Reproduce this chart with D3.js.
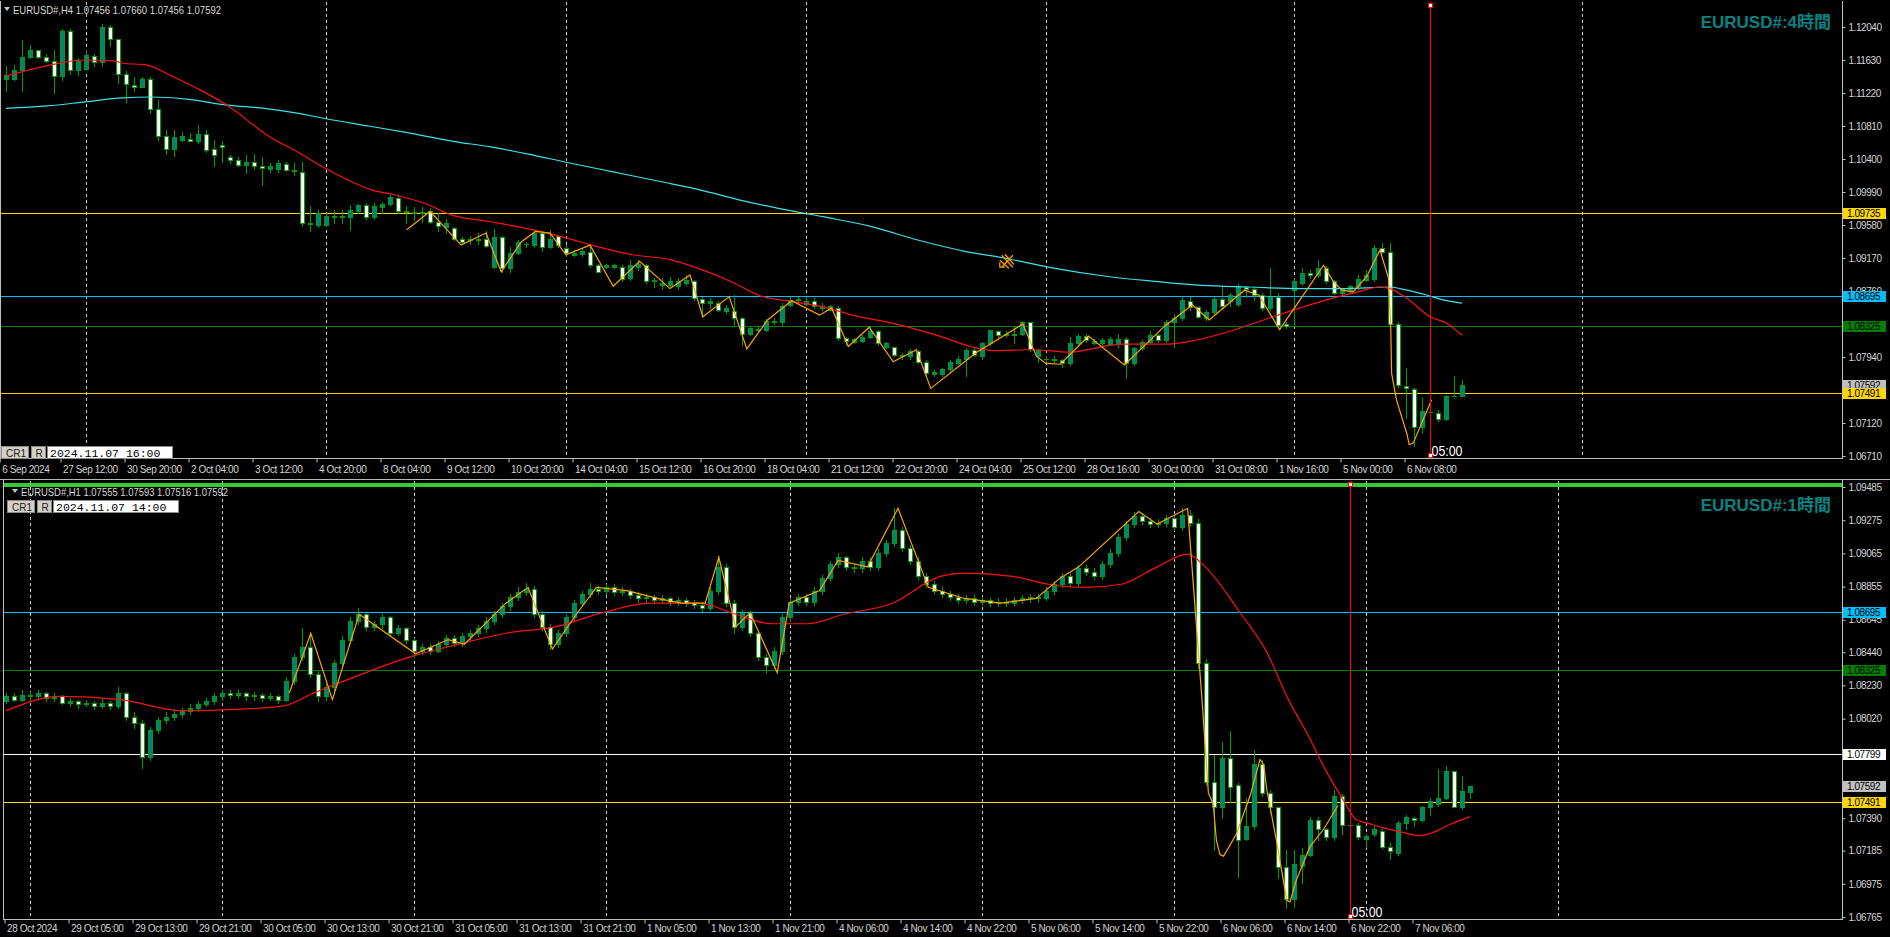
<!DOCTYPE html>
<html><head><meta charset="utf-8"><title>EURUSD H4 / H1</title>
<script src="https://cdn.jsdelivr.net/npm/d3@7/dist/d3.min.js"></script>
<style>
html,body{margin:0;padding:0;background:#000;overflow:hidden;}
svg{display:block;}
</style></head>
<body>
<svg id="chart" width="1890" height="937"></svg>
<script>
// ================= DATA =================
// --- H4 panel (top) ---
const h4Open=[1.1140,1.1140,1.1151,1.1167,1.1175,1.1167,1.1162,1.1143,1.1199,1.1150,
1.1152,1.1168,1.1161,1.1204,1.1189,1.1146,1.1132,1.1130,1.1139,1.1102,
1.1069,1.1053,1.1064,1.1065,1.1062,1.1071,1.1052,1.1057,1.1042,1.1039,
1.1032,1.1036,1.1031,1.1028,1.1028,1.1034,1.1025,1.1024,1.0959,1.0958,
1.0958,1.0968,1.0968,1.0968,1.0976,1.0983,1.0968,1.0980,1.0984,1.0992,
1.0975,1.0973,1.0974,1.0975,1.0962,1.0956,1.0954,1.0940,1.0939,1.0939,
1.0940,1.0906,1.0943,1.0904,1.0923,1.0934,1.0933,1.0948,1.0931,1.0944,
1.0930,1.0921,1.0922,1.0925,1.0908,1.0906,1.0906,1.0906,1.0892,1.0906,
1.0908,1.0888,1.0884,1.0884,1.0882,1.0886,1.0888,1.0866,1.0861,1.0861,
1.0851,1.0851,1.0842,1.0823,1.0829,1.0828,1.0839,1.0837,1.0859,1.0865,
1.0860,1.0863,1.0855,1.0853,1.0855,1.0817,1.0813,1.0814,1.0819,1.0826,
1.0807,1.0806,1.0795,1.0795,1.0801,1.0788,1.0773,1.0773,1.0779,1.0787,
1.0792,1.0803,1.0795,1.0811,1.0826,1.0821,1.0821,1.0823,1.0837,1.0795,
1.0791,1.0792,1.0790,1.0786,1.0811,1.0820,1.0812,1.0812,1.0810,1.0810,
1.0816,1.0786,1.0805,1.0813,1.0821,1.0815,1.0838,1.0842,1.0864,1.0856,
1.0843,1.0850,1.0866,1.0864,1.0860,1.0881,1.0878,1.0871,1.0855,1.0869,
1.0835,1.0877,1.0886,1.0898,1.0896,1.0904,1.0888,1.0874,1.0877,1.0882,
1.0890,1.0891,1.0929,1.0924,1.0835,1.0758,1.0754,1.0707,1.0726,1.0725,
1.0717,1.0746,1.07456];
const h4High=[1.1155,1.1157,1.1188,1.1182,1.1176,1.1171,1.1175,1.1201,1.1201,1.1166,
1.1175,1.1171,1.1208,1.1206,1.1189,1.1149,1.1142,1.1142,1.1142,1.1113,
1.1076,1.1076,1.1074,1.1072,1.1082,1.1076,1.1064,1.1062,1.1045,1.1043,
1.1045,1.1046,1.1043,1.1035,1.1039,1.1036,1.1035,1.1036,1.0981,1.0977,
1.0973,1.0977,1.0977,1.0983,1.0984,1.0985,1.0985,1.0987,1.0995,1.0995,
1.0981,1.0980,1.0980,1.0979,1.0973,1.0966,1.0956,1.0943,1.0944,1.0948,
1.0950,1.0953,1.0944,1.0931,1.0939,1.0937,1.0952,1.0950,1.0952,1.0946,
1.0933,1.0927,1.0929,1.0933,1.0910,1.0910,1.0910,1.0908,1.0915,1.0914,
1.0910,1.0892,1.0892,1.0894,1.0892,1.0896,1.0890,1.0869,1.0867,1.0863,
1.0859,1.0871,1.0844,1.0832,1.0832,1.0841,1.0842,1.0861,1.0868,1.0869,
1.0869,1.0867,1.0861,1.0859,1.0857,1.0819,1.0817,1.0821,1.0832,1.0828,
1.0813,1.0807,1.0799,1.0804,1.0803,1.0790,1.0778,1.0780,1.0790,1.0795,
1.0805,1.0805,1.0813,1.0828,1.0828,1.0826,1.0832,1.0839,1.0838,1.0804,
1.0795,1.0795,1.0792,1.0819,1.0823,1.0823,1.0816,1.0818,1.0819,1.0823,
1.0819,1.0807,1.0815,1.0826,1.0823,1.0840,1.0848,1.0868,1.0869,1.0857,
1.0852,1.0869,1.0882,1.0873,1.0885,1.0882,1.0881,1.0873,1.0904,1.0873,
1.0838,1.0891,1.0904,1.0902,1.0914,1.0907,1.0890,1.0879,1.0883,1.0896,
1.0902,1.0933,1.0936,1.0936,1.0838,1.0780,1.0755,1.0743,1.0741,1.0728,
1.0747,1.0770,1.07660];
const h4Low=[1.1124,1.1138,1.1124,1.1165,1.1166,1.1161,1.1122,1.1138,1.1146,1.1144,
1.1151,1.1155,1.1155,1.1180,1.1134,1.1111,1.1124,1.1129,1.1097,1.1064,
1.1046,1.1044,1.1062,1.1062,1.1060,1.1049,1.1031,1.1036,1.1035,1.1031,
1.1023,1.1028,1.1008,1.1024,1.1024,1.1025,1.1020,1.0957,1.0950,1.0956,
1.0957,1.0960,1.0961,1.0952,1.0973,1.0966,1.0966,1.0973,1.0983,1.0973,
1.0960,1.0964,1.0962,1.0961,1.0950,1.0948,1.0939,1.0935,1.0935,1.0935,
1.0931,1.0904,1.0899,1.0900,1.0922,1.0931,1.0931,1.0926,1.0929,1.0931,
1.0919,1.0919,1.0919,1.0906,1.0899,1.0904,1.0904,1.0888,1.0890,1.0902,
1.0886,1.0881,1.0879,1.0882,1.0879,1.0884,1.0865,1.0844,1.0855,1.0851,
1.0849,1.0834,1.0809,1.0821,1.0826,1.0826,1.0835,1.0833,1.0857,1.0862,
1.0859,1.0855,1.0852,1.0852,1.0815,1.0809,1.0811,1.0813,1.0817,1.0809,
1.0805,1.0795,1.0792,1.0792,1.0787,1.0772,1.0770,1.0770,1.0777,1.0785,
1.0770,1.0795,1.0792,1.0809,1.0819,1.0819,1.0811,1.0821,1.0802,1.0788,
1.0788,1.0788,1.0782,1.0784,1.0809,1.0813,1.0810,1.0809,1.0809,1.0807,
1.0768,1.0784,1.0803,1.0811,1.0813,1.0813,1.0807,1.0840,1.0852,1.0842,
1.0840,1.0848,1.0855,1.0857,1.0857,1.0869,1.0865,1.0852,1.0852,1.0832,
1.0830,1.0834,1.0883,1.0892,1.0894,1.0886,1.0872,1.0871,1.0875,1.0879,
1.0888,1.0888,1.0923,1.0832,1.0757,1.0718,1.0683,1.0699,1.0708,1.0715,
1.0716,1.0745,1.07456];
const h4Close=[1.1144,1.1151,1.1167,1.1175,1.1167,1.1162,1.1143,1.1199,1.1150,1.1162,
1.1169,1.1161,1.1204,1.1189,1.1146,1.1133,1.1130,1.1139,1.1102,1.1069,
1.1053,1.1067,1.1068,1.1062,1.1071,1.1051,1.1045,1.1055,1.1039,1.1033,
1.1036,1.1031,1.1029,1.1031,1.1035,1.1026,1.1026,1.0960,1.0961,1.0973,
1.0969,1.0969,1.0969,1.0977,1.0983,1.0968,1.0981,1.0984,1.0993,1.0976,
1.0974,1.0974,1.0973,1.0962,1.0957,1.0961,1.0940,1.0937,1.0940,1.0940,
1.0932,1.0943,1.0904,1.0923,1.0937,1.0935,1.0948,1.0931,1.0940,1.0933,
1.0923,1.0923,1.0926,1.0908,1.0900,1.0908,1.0908,1.0891,1.0908,1.0910,
1.0888,1.0890,1.0886,1.0888,1.0888,1.0890,1.0867,1.0861,1.0863,1.0853,
1.0855,1.0842,1.0823,1.0830,1.0828,1.0839,1.0837,1.0857,1.0865,1.0866,
1.0864,1.0857,1.0857,1.0857,1.0817,1.0814,1.0816,1.0819,1.0826,1.0811,
1.0811,1.0797,1.0797,1.0802,1.0788,1.0774,1.0775,1.0779,1.0788,1.0792,
1.0803,1.0796,1.0811,1.0827,1.0821,1.0823,1.0823,1.0837,1.0804,1.0803,
1.0791,1.0790,1.0786,1.0812,1.0820,1.0815,1.0814,1.0815,1.0816,1.0816,
1.0786,1.0805,1.0813,1.0821,1.0815,1.0838,1.0843,1.0865,1.0856,1.0844,
1.0850,1.0866,1.0857,1.0871,1.0882,1.0878,1.0871,1.0855,1.0869,1.0834,
1.0833,1.0888,1.0898,1.0896,1.0905,1.0888,1.0874,1.0878,1.0882,1.0891,
1.0896,1.0929,1.0925,1.0835,1.0759,1.0755,1.0707,1.0727,1.0726,1.0717,
1.0746,1.0746,1.07592];
// moving averages & zigzag: [bar index, price]
const h4RedMa=[[0,1.1143],[5.15,1.1156],[9.9,1.1163],[13.4,1.1162],[14.6,1.1159],[17.5,1.1157],[20.5,1.1144],[24.6,1.1124],[27.6,1.1107],[32.9,1.1068],[36.4,1.1049],[40,1.1028],[45.9,1.1001],[48.8,1.0995],[52.3,1.0985],[55.9,1.0970],[60.6,1.0962],[65.9,1.0952],[70,1.0942],[73.6,1.0932],[78.3,1.0921],[83,1.0915],[86,1.0906],[91,1.0886],[94,1.0871],[98.2,1.0863],[102.3,1.0856],[105.8,1.0846],[111.7,1.0834],[117,1.0819],[120.6,1.0807],[123.5,1.0802],[128.3,1.0803],[133,1.0800],[137.1,1.0807],[139.5,1.0810],[145.4,1.0810],[148.3,1.0814],[153,1.0826],[157.2,1.0840],[161.75,1.0855],[165.4,1.0866],[169,1.0875],[171.75,1.0881],[173,1.0879],[175.1,1.0867],[178,1.0844],[180.1,1.0836],[182,1.0821]];
const h4CyanMa=[[0,1.1103],[5.15,1.1106],[9.9,1.1111],[14.6,1.1116],[18.1,1.1117],[22.85,1.1114],[27.6,1.1107],[32.3,1.1103],[36.4,1.1097],[40,1.1090],[45.3,1.1081],[50,1.1073],[55.9,1.1062],[60.6,1.1055],[65.3,1.1046],[70,1.1036],[75.9,1.1024],[81.8,1.1012],[86.6,1.1002],[91.75,1.0989],[96.4,1.0979],[102.3,1.0968],[108.2,1.0956],[114.1,1.0939],[120,1.0925],[124.7,1.0917],[130.6,1.0905],[137.7,1.0894],[143.6,1.0888],[149.5,1.0883],[155.4,1.0881],[161.75,1.0879],[167.2,1.0879],[173,1.0881],[174.25,1.0879],[177.6,1.0871],[179.25,1.0866],[182,1.0861]];
const h4Zigzag=[[50.1,1.0952],[53,1.0975],[56.9,1.0933],[60,1.0948],[61.9,1.0900],[64.4,1.0937],[66.2,1.0950],[68,1.0948],[70,1.0921],[73,1.0933],[75.9,1.0882],[79.2,1.0913],[83,1.0879],[85.5,1.0896],[87.1,1.0844],[90.4,1.0869],[92.6,1.0804],[95.2,1.0840],[98.2,1.0864],[101.7,1.0846],[103.2,1.0855],[105.3,1.0807],[107.9,1.0831],[110.9,1.0788],[113.8,1.0803],[115.6,1.0755],[121.2,1.0799],[127.1,1.0835],[128.8,1.0795],[130,1.0786],[131.8,1.0785],[135.3,1.0820],[139.8,1.0784],[144.8,1.0832],[148.3,1.0859],[150.4,1.0840],[154.8,1.0877],[156.6,1.0871],[159.2,1.0828],[161.75,1.0865],[164.7,1.0908],[165.9,1.0888],[167,1.0877],[168.4,1.0875],[170.1,1.0894],[171.75,1.0927],[172.8,1.0892],[173.1,1.0828],[173.2,1.0774],[173.8,1.0741],[175.1,1.0699],[175.4,1.0685],[175.9,1.0687],[178.2,1.0741]];
const h4PriceTicks=[1.12040,1.11630,1.11220,1.10810,1.10400,1.09990,1.09580,1.09170,1.08760,1.07940,1.07120,1.06710];
const h4TimeLabels=["6 Sep 2024","27 Sep 12:00","30 Sep 20:00","2 Oct 04:00","3 Oct 12:00","4 Oct 20:00","8 Oct 04:00","9 Oct 12:00","10 Oct 20:00","14 Oct 04:00","15 Oct 12:00","16 Oct 20:00","18 Oct 04:00","21 Oct 12:00","22 Oct 20:00","24 Oct 04:00","25 Oct 12:00","28 Oct 16:00","30 Oct 00:00","31 Oct 08:00","1 Nov 16:00","5 Nov 00:00","6 Nov 08:00"];
const h4TimeLabelBars=[-0.6,7,15,23,31,39,47,55,63,71,79,87,95,103,111,119,127,135,143,151,159,167,175];
const h4GridBars=[10,40,70,100,130,161,197];
const h4YellowLevels=[1.09735,1.07491];
const h4CyanLevels=[1.08695];
const h4GreenLevels=[1.08325];
const h4Ohlc=[1.07456,1.07660,1.07456,1.07592];
const h4CursorBar=178;
const h4MarkerPoint=[125.1,1.0913];

// --- H1 panel (bottom) ---
const h1Open=[1.0813,1.0816,1.0814,1.0817,1.0816,1.0818,1.0815,1.0816,1.0812,1.0813,
1.0811,1.0812,1.0810,1.0812,1.0810,1.0818,1.0803,1.0799,1.0778,1.0795,
1.0801,1.0803,1.0805,1.0807,1.0809,1.0811,1.0813,1.0816,1.0818,1.0817,
1.0818,1.0816,1.0817,1.0815,1.0816,1.0814,1.0826,1.0841,1.0847,1.0830,
1.0816,1.0822,1.0837,1.0852,1.0864,1.0868,1.0860,1.0862,1.0866,1.0856,
1.0859,1.0852,1.0845,1.0847,1.0845,1.0849,1.0853,1.0850,1.0854,1.0856,
1.0859,1.0864,1.0868,1.0873,1.0879,1.0882,1.0884,1.0868,1.0860,1.0849,
1.0856,1.0866,1.0875,1.0881,1.0884,1.0883,1.0885,1.0882,1.0883,1.0880,
1.0878,1.0879,1.0877,1.0878,1.0876,1.0877,1.0875,1.0874,1.0872,1.0883,
1.0898,1.0875,1.0860,1.0869,1.0856,1.0841,1.0836,1.0845,1.0866,1.0876,
1.0879,1.0876,1.0883,1.0891,1.0900,1.0904,1.0898,1.0897,1.0902,1.0898,
1.0907,1.0913,1.0921,1.0910,1.0902,1.0892,1.0887,1.0883,1.0881,1.0879,
1.0877,1.0878,1.0876,1.0877,1.0875,1.0876,1.0875,1.0877,1.0878,1.0879,
1.0878,1.0883,1.0887,1.0892,1.0888,1.0897,1.0895,1.0892,1.0900,1.0907,
1.0917,1.0925,1.0930,1.0927,1.0925,1.0926,1.0929,1.0923,1.0931,1.0926,
1.0837,1.0762,1.0746,1.0777,1.0760,1.0726,1.0734,1.0773,1.0755,1.0746,
1.0708,1.0688,1.0709,1.0716,1.0738,1.0732,1.0727,1.0753,1.0735,1.0735,
1.0726,1.0729,1.0731,1.0721,1.0717,1.0736,1.0739,1.0738,1.0746,1.0748,
1.0752,1.0769,1.0746,1.07555];
const h1High=[1.0818,1.0818,1.0820,1.0819,1.0820,1.0819,1.0818,1.0817,1.0815,1.0814,
1.0814,1.0813,1.0815,1.0813,1.0822,1.0819,1.0806,1.0801,1.0797,1.0803,
1.0806,1.0808,1.0809,1.0811,1.0813,1.0815,1.0818,1.0820,1.0820,1.0820,
1.0819,1.0819,1.0818,1.0818,1.0817,1.0828,1.0843,1.0859,1.0856,1.0832,
1.0825,1.0839,1.0854,1.0866,1.0872,1.0869,1.0864,1.0868,1.0867,1.0861,
1.0860,1.0853,1.0849,1.0849,1.0851,1.0855,1.0855,1.0856,1.0858,1.0861,
1.0866,1.0870,1.0875,1.0881,1.0885,1.0888,1.0886,1.0870,1.0862,1.0858,
1.0868,1.0877,1.0883,1.0888,1.0886,1.0887,1.0887,1.0885,1.0884,1.0882,
1.0881,1.0880,1.0880,1.0879,1.0879,1.0878,1.0877,1.0876,1.0885,1.0905,
1.0900,1.0877,1.0871,1.0870,1.0858,1.0843,1.0847,1.0868,1.0878,1.0881,
1.0881,1.0885,1.0893,1.0902,1.0907,1.0905,1.0900,1.0904,1.0904,1.0909,
1.0915,1.0935,1.0923,1.0912,1.0904,1.0894,1.0889,1.0885,1.0883,1.0881,
1.0880,1.0880,1.0879,1.0878,1.0878,1.0878,1.0879,1.0880,1.0881,1.0881,
1.0885,1.0889,1.0894,1.0894,1.0899,1.0899,1.0897,1.0902,1.0909,1.0919,
1.0927,1.0933,1.0932,1.0929,1.0928,1.0931,1.0931,1.0935,1.0934,1.0928,
1.0840,1.0779,1.0787,1.0794,1.0761,1.0752,1.0782,1.0776,1.0757,1.0746,
1.0719,1.0719,1.0720,1.0740,1.0740,1.0733,1.0757,1.0754,1.0739,1.0736,
1.0729,1.0734,1.0732,1.0723,1.0737,1.0741,1.0740,1.0747,1.0752,1.0770,
1.0772,1.0769,1.0766,1.07593];
const h1Low=[1.0812,1.0813,1.0813,1.0814,1.0815,1.0813,1.0813,1.0811,1.0810,1.0809,
1.0810,1.0808,1.0809,1.0808,1.0809,1.0801,1.0796,1.0771,1.0776,1.0793,
1.0799,1.0801,1.0803,1.0805,1.0807,1.0810,1.0811,1.0814,1.0815,1.0815,
1.0814,1.0814,1.0813,1.0814,1.0812,1.0813,1.0824,1.0839,1.0828,1.0813,
1.0814,1.0820,1.0835,1.0850,1.0862,1.0858,1.0858,1.0859,1.0854,1.0855,
1.0850,1.0841,1.0843,1.0843,1.0844,1.0847,1.0848,1.0848,1.0852,1.0854,
1.0857,1.0862,1.0866,1.0871,1.0877,1.0880,1.0866,1.0858,1.0846,1.0847,
1.0854,1.0864,1.0873,1.0879,1.0881,1.0881,1.0880,1.0880,1.0878,1.0876,
1.0876,1.0875,1.0875,1.0874,1.0874,1.0873,1.0872,1.0870,1.0871,1.0881,
1.0873,1.0856,1.0858,1.0854,1.0839,1.0831,1.0834,1.0843,1.0864,1.0874,
1.0874,1.0874,1.0881,1.0889,1.0898,1.0896,1.0895,1.0895,1.0896,1.0896,
1.0905,1.0911,1.0908,1.0900,1.0890,1.0885,1.0881,1.0879,1.0877,1.0875,
1.0875,1.0874,1.0874,1.0873,1.0873,1.0873,1.0874,1.0875,1.0876,1.0876,
1.0877,1.0881,1.0885,1.0886,1.0886,1.0893,1.0890,1.0890,1.0898,1.0905,
1.0915,1.0923,1.0925,1.0923,1.0923,1.0924,1.0921,1.0921,1.0924,1.0834,
1.0760,1.0719,1.0739,1.0749,1.0702,1.0725,1.0732,1.0753,1.0742,1.0701,
1.0682,1.0683,1.0698,1.0715,1.0725,1.0725,1.0725,1.0729,1.0730,1.0726,
1.0721,1.0728,1.0720,1.0713,1.0716,1.0732,1.0734,1.0737,1.0741,1.0747,
1.0751,1.0746,1.0745,1.07516];
const h1Close=[1.0816,1.0814,1.0817,1.0816,1.0818,1.0815,1.0816,1.0812,1.0813,1.0811,
1.0812,1.0810,1.0812,1.0810,1.0818,1.0803,1.0799,1.0778,1.0795,1.0801,
1.0803,1.0805,1.0807,1.0809,1.0811,1.0813,1.0816,1.0818,1.0817,1.0818,
1.0816,1.0817,1.0815,1.0816,1.0814,1.0826,1.0841,1.0847,1.0830,1.0816,
1.0822,1.0837,1.0852,1.0864,1.0868,1.0860,1.0862,1.0866,1.0856,1.0859,
1.0852,1.0845,1.0847,1.0845,1.0849,1.0853,1.0850,1.0854,1.0856,1.0859,
1.0864,1.0868,1.0873,1.0879,1.0882,1.0884,1.0868,1.0860,1.0849,1.0856,
1.0866,1.0875,1.0881,1.0884,1.0883,1.0885,1.0882,1.0883,1.0880,1.0878,
1.0879,1.0877,1.0878,1.0876,1.0877,1.0875,1.0874,1.0872,1.0883,1.0898,
1.0875,1.0860,1.0869,1.0856,1.0841,1.0836,1.0845,1.0866,1.0876,1.0879,
1.0876,1.0883,1.0891,1.0900,1.0904,1.0898,1.0897,1.0902,1.0898,1.0907,
1.0913,1.0921,1.0910,1.0902,1.0892,1.0887,1.0883,1.0881,1.0879,1.0877,
1.0878,1.0876,1.0877,1.0875,1.0876,1.0875,1.0877,1.0878,1.0879,1.0878,
1.0883,1.0887,1.0892,1.0888,1.0897,1.0895,1.0892,1.0900,1.0907,1.0917,
1.0925,1.0930,1.0927,1.0925,1.0926,1.0929,1.0923,1.0931,1.0926,1.0837,
1.0762,1.0746,1.0777,1.0759,1.0725,1.0734,1.0773,1.0755,1.0746,1.0708,
1.0688,1.0710,1.0716,1.0738,1.0732,1.0727,1.0753,1.0735,1.0735,1.0727,
1.0728,1.0732,1.0721,1.0718,1.0736,1.0740,1.0738,1.0746,1.0750,1.0752,
1.0769,1.0746,1.0756,1.07592];
const h1RedMa=[[0,1.0807],[6.8,1.0816],[14.3,1.0814],[21.9,1.0807],[29.4,1.0808],[34.7,1.0810],[38.4,1.0818],[44.4,1.0830],[50.5,1.0841],[56.5,1.0849],[62.5,1.0856],[68.6,1.0860],[74.6,1.0869],[80.6,1.0875],[86.6,1.0875],[91.2,1.0868],[95.7,1.0862],[100.2,1.0862],[104.7,1.0868],[110.8,1.0875],[116.8,1.0892],[119.8,1.0894],[125.8,1.0892],[130.3,1.0887],[134.9,1.0885],[139.4,1.0887],[143.9,1.0898],[147.7,1.0906],[149.9,1.0898],[154.4,1.0868],[157.5,1.0845],[160.3,1.0814],[162.6,1.0793],[165.1,1.0768],[167.1,1.0751],[168.8,1.0738],[170.1,1.0736],[172.1,1.0733],[174.6,1.0730],[176.75,1.0728],[178.4,1.0730],[180.5,1.0735],[183,1.0740]];
const h1Zigzag=[[35.4,1.0818],[38.1,1.0856],[40.8,1.0814],[44.15,1.0868],[51.2,1.0843],[55.3,1.0852],[57.3,1.0849],[62.5,1.0875],[65.25,1.0885],[68.3,1.0846],[71.3,1.0868],[73.8,1.0885],[77.6,1.0883],[81.4,1.0878],[84.4,1.0875],[87.4,1.0875],[89.1,1.0904],[91.2,1.0860],[93,1.0869],[96.4,1.0831],[97.9,1.0875],[101.7,1.0883],[104,1.0902],[107.7,1.0898],[111.5,1.0935],[115.3,1.0885],[119.8,1.0878],[124.3,1.0875],[128.8,1.0878],[131.8,1.0891],[134.1,1.0898],[141.6,1.0933],[143.9,1.0925],[147.7,1.0935],[149.5,1.0814],[150.3,1.0755],[150.9,1.0748],[151.3,1.0725],[151.75,1.0716],[152.2,1.0715],[153.8,1.0729],[155.5,1.0753],[156.75,1.0776],[157.2,1.0773],[157.6,1.0757],[158.8,1.0725],[160.1,1.0687],[160.5,1.0686],[161.3,1.0700],[163,1.0721],[164.7,1.0732],[166.5,1.0747]];
const h1PriceTicks=[1.09485,1.09275,1.09065,1.08855,1.08645,1.08440,1.08230,1.08020,1.07390,1.07185,1.06975,1.06765];
const h1TimeLabels=["28 Oct 2024","29 Oct 05:00","29 Oct 13:00","29 Oct 21:00","30 Oct 05:00","30 Oct 13:00","30 Oct 21:00","31 Oct 05:00","31 Oct 13:00","31 Oct 21:00","1 Nov 05:00","1 Nov 13:00","1 Nov 21:00","4 Nov 06:00","4 Nov 14:00","4 Nov 22:00","5 Nov 06:00","5 Nov 14:00","5 Nov 22:00","6 Nov 06:00","6 Nov 14:00","6 Nov 22:00","7 Nov 06:00"];
const h1TimeLabelBars=[0,8,16,24,32,40,48,56,64,72,80,88,96,104,112,120,128,136,144,152,160,168,176];
const h1GridBars=[3,27,51,75,98,122,146,170,194];
const h1CyanLevels=[1.08695];
const h1GreenLevels=[1.08325];
const h1WhiteLevels=[1.07799];
const h1YellowLevels=[1.07491];
const h1Ohlc=[1.07555,1.07593,1.07516,1.07592];
const h1CursorBar=168;

// ================= DRAWING =================
const FONT='"Liberation Sans",Arial,sans-serif';
const PR=1842;               // right edge of plot areas
const GREEN='#00a000', TEAL='#008080', WHITE='#ffffff';
const svg=d3.select('#chart');
svg.append('rect').attr('width',1890).attr('height',937).attr('fill','#000');
const x=d3.scaleLinear().domain([0,182]).range([6,6+8*182]);
const xLabel=d3.scaleLinear().domain([0,182]).range([4,4+8*182]);
const fmt=d3.format('.5f');

function drawPanel(p){
  const y=p.y;
  const clipId='clip-'+p.id;
  svg.append('clipPath').attr('id',clipId).append('rect')
    .attr('x',p.left).attr('y',p.top).attr('width',PR-p.left).attr('height',p.bottom-p.top);
  const inner=svg.append('g').attr('clip-path',`url(#${clipId})`);

  // dashed grid
  inner.append('g').selectAll('line').data(p.gridBars).join('line')
    .attr('x1',d=>Math.round(x(d))+0.5).attr('x2',d=>Math.round(x(d))+0.5)
    .attr('y1',p.top).attr('y2',p.bottom)
    .attr('stroke','#c8c8c8').attr('stroke-dasharray','3,3').attr('shape-rendering','crispEdges');

  // horizontal price levels
  inner.append('g').selectAll('line').data(p.levels).join('line')
    .attr('x1',p.left).attr('x2',PR)
    .attr('y1',d=>Math.round(y(d.price))+0.5).attr('y2',d=>Math.round(y(d.price))+0.5)
    .attr('stroke',d=>d.color).attr('stroke-width',1).attr('shape-rendering','crispEdges');

  // candles
  const cs=d3.range(p.open.length).map(i=>({i,o:p.open[i],h:p.high[i],l:p.low[i],c:p.close[i]}));
  const cx=d=>Math.round(x(d.i));
  const top=d=>Math.round(y(Math.max(d.o,d.c)));
  const bot=d=>Math.round(y(Math.min(d.o,d.c)));
  const cg=inner.append('g').attr('shape-rendering','crispEdges');
  cg.selectAll('rect.w').data(cs).join('rect').attr('class','w')
    .attr('x',cx).attr('y',d=>Math.round(y(d.h))).attr('width',1)
    .attr('height',d=>Math.max(1,Math.round(y(d.l))-Math.round(y(d.h))+1)).attr('fill',GREEN);
  cg.selectAll('rect.b').data(cs).join('rect').attr('class','b')
    .attr('x',d=>cx(d)-2).attr('y',top).attr('width',5)
    .attr('height',d=>Math.max(1,bot(d)-top(d)+1)).attr('fill',GREEN);
  cg.selectAll('rect.f').data(cs.filter(d=>bot(d)-top(d)>=2)).join('rect').attr('class','f')
    .attr('x',d=>cx(d)-1).attr('y',d=>top(d)+1).attr('width',3)
    .attr('height',d=>bot(d)-top(d)-1).attr('fill',d=>d.c>d.o?TEAL:WHITE);

  // indicator lines
  const smooth=d3.line().x(d=>x(d[0])).y(d=>y(d[1])).curve(d3.curveMonotoneX);
  const straight=d3.line().x(d=>x(d[0])).y(d=>y(d[1]));
  if(p.cyanMa) inner.append('path').datum(p.cyanMa).attr('d',smooth).attr('fill','none').attr('stroke','#3fe0ea').attr('stroke-width',1.2);
  if(p.redMa) inner.append('path').datum(p.redMa).attr('d',smooth).attr('fill','none').attr('stroke','#ff1010').attr('stroke-width',1.2);
  if(p.zigzag && p.zigzag.length) inner.append('path').datum(p.zigzag).attr('d',straight).attr('fill','none').attr('stroke','#ffa500').attr('stroke-width',1.2);

  // cursor line
  const vx=Math.round(x(p.cursorBar))+0.5;
  inner.append('line').attr('x1',vx).attr('x2',vx).attr('y1',p.top).attr('y2',p.bottom)
    .attr('stroke','#ff0000').attr('shape-rendering','crispEdges');
  [p.top+1,p.bottom-5].forEach(yy=>{
    svg.append('rect').attr('x',vx-2.5).attr('y',yy+0.5).attr('width',4).attr('height',4)
      .attr('fill','#fff').attr('stroke','#ff0000').attr('shape-rendering','crispEdges');
  });
  svg.append('text').attr('x',vx+1).attr('y',p.bottom-2).attr('fill','#fff')
    .attr('font-family',FONT).attr('font-size',15).attr('textLength',31).attr('lengthAdjust','spacingAndGlyphs').text('05:00');

  // frame
  const fr=svg.append('g').attr('stroke','#c0c0c0').attr('shape-rendering','crispEdges');
  fr.append('line').attr('x1',p.left-0.5).attr('x2',PR+0.5).attr('y1',p.bottom+0.5).attr('y2',p.bottom+0.5);
  fr.append('line').attr('x1',PR+0.5).attr('x2',PR+0.5).attr('y1',p.top-1).attr('y2',p.bottom+0.5);
  fr.append('line').attr('x1',p.left-0.5).attr('x2',p.left-0.5).attr('y1',p.top-1).attr('y2',p.bottom+0.5);

  // price axis
  const ax=d3.axisRight(y).tickValues(p.ticks).tickFormat(fmt).tickSize(3).tickPadding(3);
  const ag=svg.append('g').attr('transform',`translate(${PR+0.5},0)`).call(ax);
  ag.attr('font-family',FONT).attr('font-size',10);
  ag.select('.domain').remove();
  ag.selectAll('line').attr('stroke','#c0c0c0');
  ag.selectAll('text').attr('fill','#d4d4d4').style('letter-spacing','-0.45px');

  // price label boxes
  const bx=svg.append('g');
  p.boxes.forEach(b=>{
    const yc=Math.round(y(b.price));
    bx.append('rect').attr('x',1843).attr('y',yc-5).attr('width',43).attr('height',11).attr('fill',b.fill).attr('shape-rendering','crispEdges');
    bx.append('text').attr('x',1847).attr('y',yc+4).attr('fill','#000').attr('font-family',FONT).attr('font-size',10)
      .style('letter-spacing','-0.45px').text(fmt(b.price));
  });

  // time axis
  const tx=d3.axisBottom(xLabel).tickValues(p.labelBars).tickFormat((d,i)=>p.labels[i]).tickSize(4).tickPadding(p.tickPad);
  const tg=svg.append('g').attr('transform',`translate(0.5,${p.bottom+0.5})`).call(tx);
  tg.attr('font-family',FONT).attr('font-size',10);
  tg.select('.domain').remove();
  tg.selectAll('line').attr('stroke','#c0c0c0');
  tg.selectAll('text').attr('text-anchor','start').attr('x',2).attr('fill','#d4d4d4').style('letter-spacing','-0.4px');

  // title
  svg.append('path').attr('d',`M${p.titleX-9},${p.titleY-7}h6l-3,4z`).attr('fill','#c8c8c8');
  svg.append('text').attr('x',p.titleX).attr('y',p.titleY).attr('fill','#d8d8d8').attr('font-family',FONT)
    .attr('font-size',11).attr('textLength',p.titleLen).attr('lengthAdjust','spacingAndGlyphs')
    .text(`${p.symbol}  ${p.ohlc.map(fmt).join(' ')}`);
  // timeframe tag
  svg.append('text').attr('x',1831).attr('y',p.tagY).attr('text-anchor','end').attr('fill','#0a8282')
    .attr('font-family','"Liberation Sans","Noto Sans CJK JP",sans-serif').attr('font-weight','bold').attr('font-size',17)
    .text(p.tag);
  // CR1 / R / date boxes
  const c=svg.append('g').attr('shape-rendering','crispEdges');
  c.append('rect').attr('x',p.crX+0.5).attr('y',p.crY+0.5).attr('width',27).attr('height',12).attr('fill','#d4d0c8').attr('stroke','#8a8a8a');
  c.append('text').attr('x',p.crX+5).attr('y',p.crY+10.5).attr('fill','#202020').attr('font-family',FONT).attr('font-size',10).text('CR1');
  c.append('rect').attr('x',p.crX+30.5).attr('y',p.crY+0.5).attr('width',14).attr('height',12).attr('fill','#d4d0c8').attr('stroke','#8a8a8a');
  c.append('text').attr('x',p.crX+34.5).attr('y',p.crY+10.5).attr('fill','#202020').attr('font-family',FONT).attr('font-size',10).text('R');
  c.append('rect').attr('x',p.crX+46.5).attr('y',p.crY+0.5).attr('width',125).attr('height',12).attr('fill','#fff').attr('stroke','#8a8a8a');
  c.append('text').attr('x',p.crX+49).attr('y',p.crY+10.5).attr('fill','#000').attr('font-family','"Liberation Mono","DejaVu Sans Mono",monospace')
    .attr('font-size',11.5).text(p.crDate);
}

// ---- top panel ----
const yTop=d3.scaleLinear().domain([1.06710,1.12040]).range([456,27]);
drawPanel({
  id:'h4',left:1,top:2,bottom:458,y:yTop,
  open:h4Open,high:h4High,low:h4Low,close:h4Close,
  redMa:h4RedMa,cyanMa:h4CyanMa,zigzag:h4Zigzag,gridBars:h4GridBars,
  levels:[...h4YellowLevels.map(p=>({price:p,color:'#ffd700'})),...h4CyanLevels.map(p=>({price:p,color:'#00bfff'})),...h4GreenLevels.map(p=>({price:p,color:'#008000'}))],
  boxes:[{price:h4YellowLevels[0],fill:'#ffd700'},{price:h4CyanLevels[0],fill:'#00bfff'},{price:h4GreenLevels[0],fill:'#008000'},{price:h4Ohlc[3],fill:'#c0c0c0'},{price:h4YellowLevels[1],fill:'#ffd700'}],
  ticks:h4PriceTicks,labels:h4TimeLabels,labelBars:h4TimeLabelBars,tickPad:3,
  cursorBar:h4CursorBar,symbol:'EURUSD#,H4',ohlc:h4Ohlc,titleX:13,titleY:14,titleLen:208,
  tag:'EURUSD#:4時間',tagY:28,crX:1,crY:446,crDate:'2024.11.07 16:00'
});
// hand-drawn marker object on the H4 chart
(function(){
  const mx=x(h4MarkerPoint[0]), my=yTop(h4MarkerPoint[1]);
  const m=svg.append('g').attr('stroke','#ff9a00').attr('stroke-width',1.3).attr('fill','none');
  m.append('path').attr('d',`M${mx-5},${my-6}L${mx+6},${my+6}M${mx+6},${my-6}L${mx-5},${my+6}M${mx-2},${my-7}L${mx+7},${my+3}M${mx-7},${my-1}L${mx+2},${my+7}`);
  m.append('path').attr('d',`M${mx-7},${my+1}V${my+6}H${mx-2}`);
})();

// ---- separator and bottom panel ----
svg.append('line').attr('x1',0).attr('x2',1890).attr('y1',479.5).attr('y2',479.5).attr('stroke','#b8b8b8').attr('shape-rendering','crispEdges');
const yBot=d3.scaleLinear().domain([1.06765,1.09485]).range([917,487]);
svg.append('rect').attr('x',4).attr('y',483).attr('width',PR-4).attr('height',4).attr('fill','#33cc33');
drawPanel({
  id:'h1',left:4,top:481,bottom:919,y:yBot,
  open:h1Open,high:h1High,low:h1Low,close:h1Close,
  redMa:h1RedMa,cyanMa:null,zigzag:h1Zigzag,gridBars:h1GridBars,
  levels:[...h1CyanLevels.map(p=>({price:p,color:'#00bfff'})),...h1GreenLevels.map(p=>({price:p,color:'#008000'})),...h1WhiteLevels.map(p=>({price:p,color:'#ffffff'})),...h1YellowLevels.map(p=>({price:p,color:'#ffd700'}))],
  boxes:[{price:h1CyanLevels[0],fill:'#00bfff'},{price:h1GreenLevels[0],fill:'#008000'},{price:h1WhiteLevels[0],fill:'#ffffff'},{price:h1Ohlc[3],fill:'#c0c0c0'},{price:h1YellowLevels[0],fill:'#ffd700'}],
  ticks:h1PriceTicks,labels:h1TimeLabels,labelBars:h1TimeLabelBars,tickPad:1,
  cursorBar:h1CursorBar,symbol:'EURUSD#,H1',ohlc:h1Ohlc,titleX:21,titleY:496,titleLen:207,
  tag:'EURUSD#:1時間',tagY:511,crX:7,crY:500,crDate:'2024.11.07 14:00'
});
</script>
</body></html>
